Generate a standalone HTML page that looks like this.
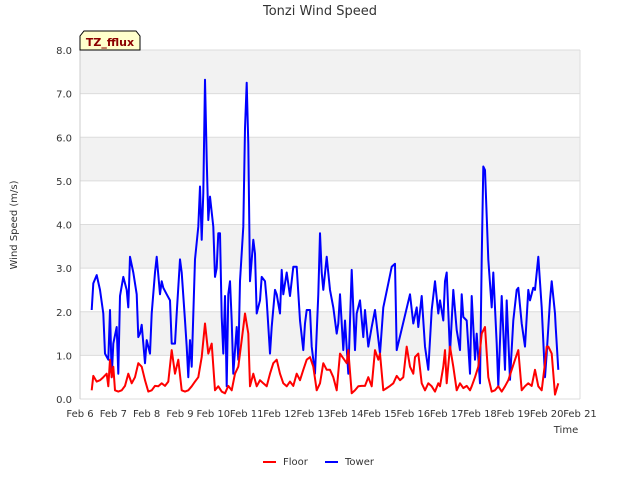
<!DOCTYPE html>
<html><head><meta charset="utf-8"><style>
body{margin:0;background:#fff;font-family:"DejaVu Sans","Liberation Sans",sans-serif}
</style></head><body>
<svg width="640" height="480" xmlns="http://www.w3.org/2000/svg" font-family="DejaVu Sans, Liberation Sans, sans-serif">
<rect width="640" height="480" fill="#fff"/>
<g id="bands"></g>
<g id="grid"></g>
<g id="yticks"></g>
<g id="xticks"></g>
<g id="series"></g>
<text x="320" y="15" text-anchor="middle" font-size="13" fill="#333">Tonzi Wind Speed</text>
<text transform="translate(17,225) rotate(-90)" text-anchor="middle" font-size="10" fill="#333">Wind Speed (m/s)</text>
<text x="566" y="433" text-anchor="middle" font-size="10" fill="#333">Time</text>
<g>
<path d="M80,50 L80,36 L84,31 L136,31 L140,36 L140,50 Z" fill="#ffffcc" stroke="#000" stroke-width="1"/>
<text x="110" y="46" text-anchor="middle" font-size="11" font-weight="bold" fill="#8b0000">TZ_fflux</text>
</g>
<g>
<g><line x1="263" y1="462" x2="276" y2="462" stroke="red" stroke-width="2"/><text x="283" y="465" font-size="10" fill="#333">Floor</text></g>
<g><line x1="325" y1="462" x2="338" y2="462" stroke="blue" stroke-width="2"/><text x="345" y="465" font-size="10" fill="#333">Tower</text></g>
</g>
</svg>
<script>
const yTicks=[0,1,2,3,4,5,6,7,8];
const xTickLabels=["Feb 6","Feb 7","Feb 8","Feb 9","Feb 10","Feb 11","Feb 12","Feb 13","Feb 14","Feb 15","Feb 16","Feb 17","Feb 18","Feb 19","Feb 20","Feb 21"];
const towerT=[6.35,6.4,6.5,6.6,6.7,6.75,6.85,6.9,6.95,7.0,7.1,7.15,7.2,7.3,7.4,7.45,7.5,7.6,7.7,7.75,7.8,7.85,7.95,8.0,8.1,8.15,8.25,8.3,8.4,8.45,8.5,8.6,8.7,8.75,8.85,8.9,9.0,9.05,9.15,9.2,9.25,9.3,9.35,9.45,9.55,9.6,9.65,9.7,9.75,9.8,9.85,9.9,10.0,10.05,10.1,10.15,10.2,10.25,10.3,10.35,10.4,10.45,10.5,10.55,10.6,10.7,10.75,10.8,10.9,10.95,11.0,
11.05,11.1,11.2,11.25,11.3,11.4,11.45,11.55,11.6,11.7,11.75,11.85,11.9,12.0,12.05,12.1,12.2,12.3,12.4,12.5,12.6,12.7,12.75,12.8,12.9,12.95,13.05,13.15,13.2,13.25,13.3,13.4,13.5,13.6,13.7,13.75,13.8,13.9,13.95,14.05,14.15,14.25,14.3,14.4,14.5,14.55,14.65,14.75,14.85,15.0,15.1,15.25,15.35,15.45,15.5,
15.9,16.0,16.1,16.15,16.25,16.35,16.45,16.55,16.65,16.75,16.8,16.9,16.95,17.0,17.1,17.2,17.3,17.4,17.45,17.5,17.6,17.7,17.75,17.85,17.9,18.0,18.05,18.1,18.15,18.25,18.35,18.4,18.5,18.55,18.65,18.75,18.8,18.9,19.0,19.1,19.15,19.25,19.35,19.45,19.5,19.6,19.65,19.75,19.85,19.95,20.0,20.1,20.15,20.25,20.27,20.35];
const towerV=[2.04,2.65,2.84,2.5,1.96,1.04,0.9,2.04,0.5,1.27,1.65,0.58,2.36,2.8,2.5,2.1,3.26,2.9,2.4,1.42,1.5,1.7,0.82,1.35,1.04,1.96,2.9,3.26,2.4,2.7,2.55,2.4,2.26,1.27,1.27,1.96,3.2,2.9,1.8,1.2,0.5,1.35,0.74,3.2,3.95,4.87,3.65,4.72,7.32,5.5,4.1,4.64,3.95,2.8,3.0,3.8,3.8,1.88,1.04,2.36,0.29,2.4,2.7,1.8,0.58,1.65,0.9,2.7,3.95,6.2,7.25,
5.85,2.7,3.65,3.33,1.96,2.26,2.8,2.7,2.26,1.04,1.65,2.5,2.4,1.96,2.96,2.4,2.9,2.36,3.03,3.03,1.8,1.12,1.73,2.04,2.04,1.2,0.58,2.4,3.8,2.9,2.5,3.26,2.5,2.1,1.5,1.73,2.4,1.12,1.8,0.58,2.96,1.12,1.96,2.26,1.42,2.04,1.2,1.65,2.04,1.04,2.1,2.65,3.03,3.1,1.12,
2.4,1.73,2.1,1.65,2.36,1.2,0.67,2.04,2.7,1.96,2.26,1.8,2.7,2.9,1.04,2.5,1.58,1.12,2.4,1.88,1.8,0.58,2.36,0.9,1.5,0.36,3.2,5.33,5.25,3.2,2.1,2.9,1.27,0.29,2.36,0.67,2.26,0.44,1.8,2.5,2.55,1.73,1.2,2.5,2.26,2.55,2.5,3.26,2.1,0.5,1.04,2.26,2.7,1.96,1.65,0.67,2.8,3.2,2.5];
const floorT=[6.35,6.4,6.5,6.6,6.7,6.8,6.85,6.9,6.95,7.0,7.05,7.15,7.25,7.35,7.45,7.55,7.65,7.75,7.85,7.95,8.05,8.15,8.25,8.35,8.45,8.55,8.65,8.75,8.85,8.95,9.05,9.15,9.25,9.35,9.45,9.55,9.65,9.75,9.85,9.95,10.05,10.15,10.25,10.35,10.45,10.55,10.65,10.75,10.85,10.95,
11.05,11.1,11.2,11.3,11.4,11.5,11.6,11.7,11.8,11.9,12.0,12.1,12.2,12.3,12.4,12.5,12.6,12.7,12.8,12.9,13.0,13.1,13.2,13.3,13.4,13.5,13.6,13.7,13.8,14.0,14.05,14.15,14.25,14.35,14.45,14.55,14.65,14.75,14.85,14.95,15.0,15.1,15.2,15.3,15.4,15.5,15.6,15.7,15.8,15.9,16.0,16.05,16.15,16.25,16.35,16.45,16.55,16.65,16.75,16.8,16.9,16.95,17.0,17.1,17.2,17.3,17.4,17.5,17.6,17.7,17.75,17.85,17.95,18.05,18.15,18.25,18.35,18.45,18.55,18.65,18.75,18.85,18.95,19.05,19.15,19.25,19.35,19.45,19.55,19.65,19.75,19.85,19.95,20.0,20.05,20.15,20.25,20.35];
const floorV=[0.2,0.53,0.4,0.43,0.5,0.58,0.29,0.9,0.5,0.74,0.2,0.17,0.2,0.3,0.58,0.36,0.5,0.82,0.74,0.43,0.17,0.2,0.3,0.29,0.36,0.3,0.4,1.12,0.58,0.9,0.2,0.17,0.2,0.29,0.4,0.5,0.96,1.73,1.04,1.27,0.2,0.29,0.17,0.13,0.3,0.2,0.58,0.74,1.35,1.96,
1.5,0.29,0.58,0.29,0.43,0.36,0.29,0.58,0.82,0.9,0.58,0.36,0.29,0.4,0.3,0.58,0.43,0.67,0.9,0.96,0.74,0.2,0.36,0.82,0.67,0.67,0.5,0.2,1.04,0.82,1.12,0.13,0.2,0.29,0.3,0.3,0.5,0.29,1.12,0.9,1.04,0.2,0.25,0.3,0.36,0.53,0.43,0.5,1.2,0.74,0.58,0.96,1.04,0.36,0.2,0.36,0.29,0.17,0.36,0.29,0.74,1.12,0.36,1.2,0.74,0.2,0.36,0.25,0.3,0.2,0.29,0.5,0.74,1.5,1.65,0.5,0.17,0.2,0.29,0.17,0.29,0.43,0.67,0.9,1.12,0.2,0.29,0.36,0.3,0.67,0.29,0.2,0.82,1.2,1.2,1.04,0.1,0.36,0.43,0.25];
const NS="http://www.w3.org/2000/svg";
const L=80,R=580,T=50,B=399;
const xs=d=>L+(d-6)/15*(R-L);
const ys=v=>B-v/8*(B-T);
function mk(tag,attrs,parent){const e=document.createElementNS(NS,tag);for(const k in attrs)e.setAttribute(k,attrs[k]);document.getElementById(parent).appendChild(e);return e;}
for(let i=0;i<8;i++){
 if(i%2===1){const r=mk('rect',{x:L,y:ys(i+1),width:R-L,height:ys(i)-ys(i+1),fill:'#f2f2f2'},'bands');
 
 }
}
yTicks.forEach(v=>{
 const g=mk('line',{x1:L,x2:R,y1:ys(v),y2:ys(v),stroke:'#dcdcdc','stroke-width':1},'grid');
 
 
 const t=mk('text',{x:L-8,y:ys(v)+4,'text-anchor':'end','font-size':10,fill:'#333'},'yticks');
 t.textContent=v.toFixed(1);
 
 
});
mk('line',{x1:L,x2:L,y1:T,y2:B,stroke:'#ccc'},'grid');
mk('line',{x1:R,x2:R,y1:T,y2:B,stroke:'#ddd'},'grid');
xTickLabels.forEach((s,i)=>{
 const t=mk('text',{x:xs(6+i),y:417,'text-anchor':'middle','font-size':10,fill:'#333'},'xticks');
 t.textContent=s;
 
 
});
function line(tArr,vArr,color,name){
 const d=tArr.map((t,i)=>(i?'L':'M')+xs(t).toFixed(1)+','+ys(vArr[i]).toFixed(1)).join(' ');
 const p=mk('path',{d:d,fill:'none',stroke:color,'stroke-width':2,'stroke-linejoin':'round'},'series');
 
 
}
line(towerT,towerV,'blue','tower-line');
line(floorT,floorV,'red','floor-line');
</script>
</body></html>
